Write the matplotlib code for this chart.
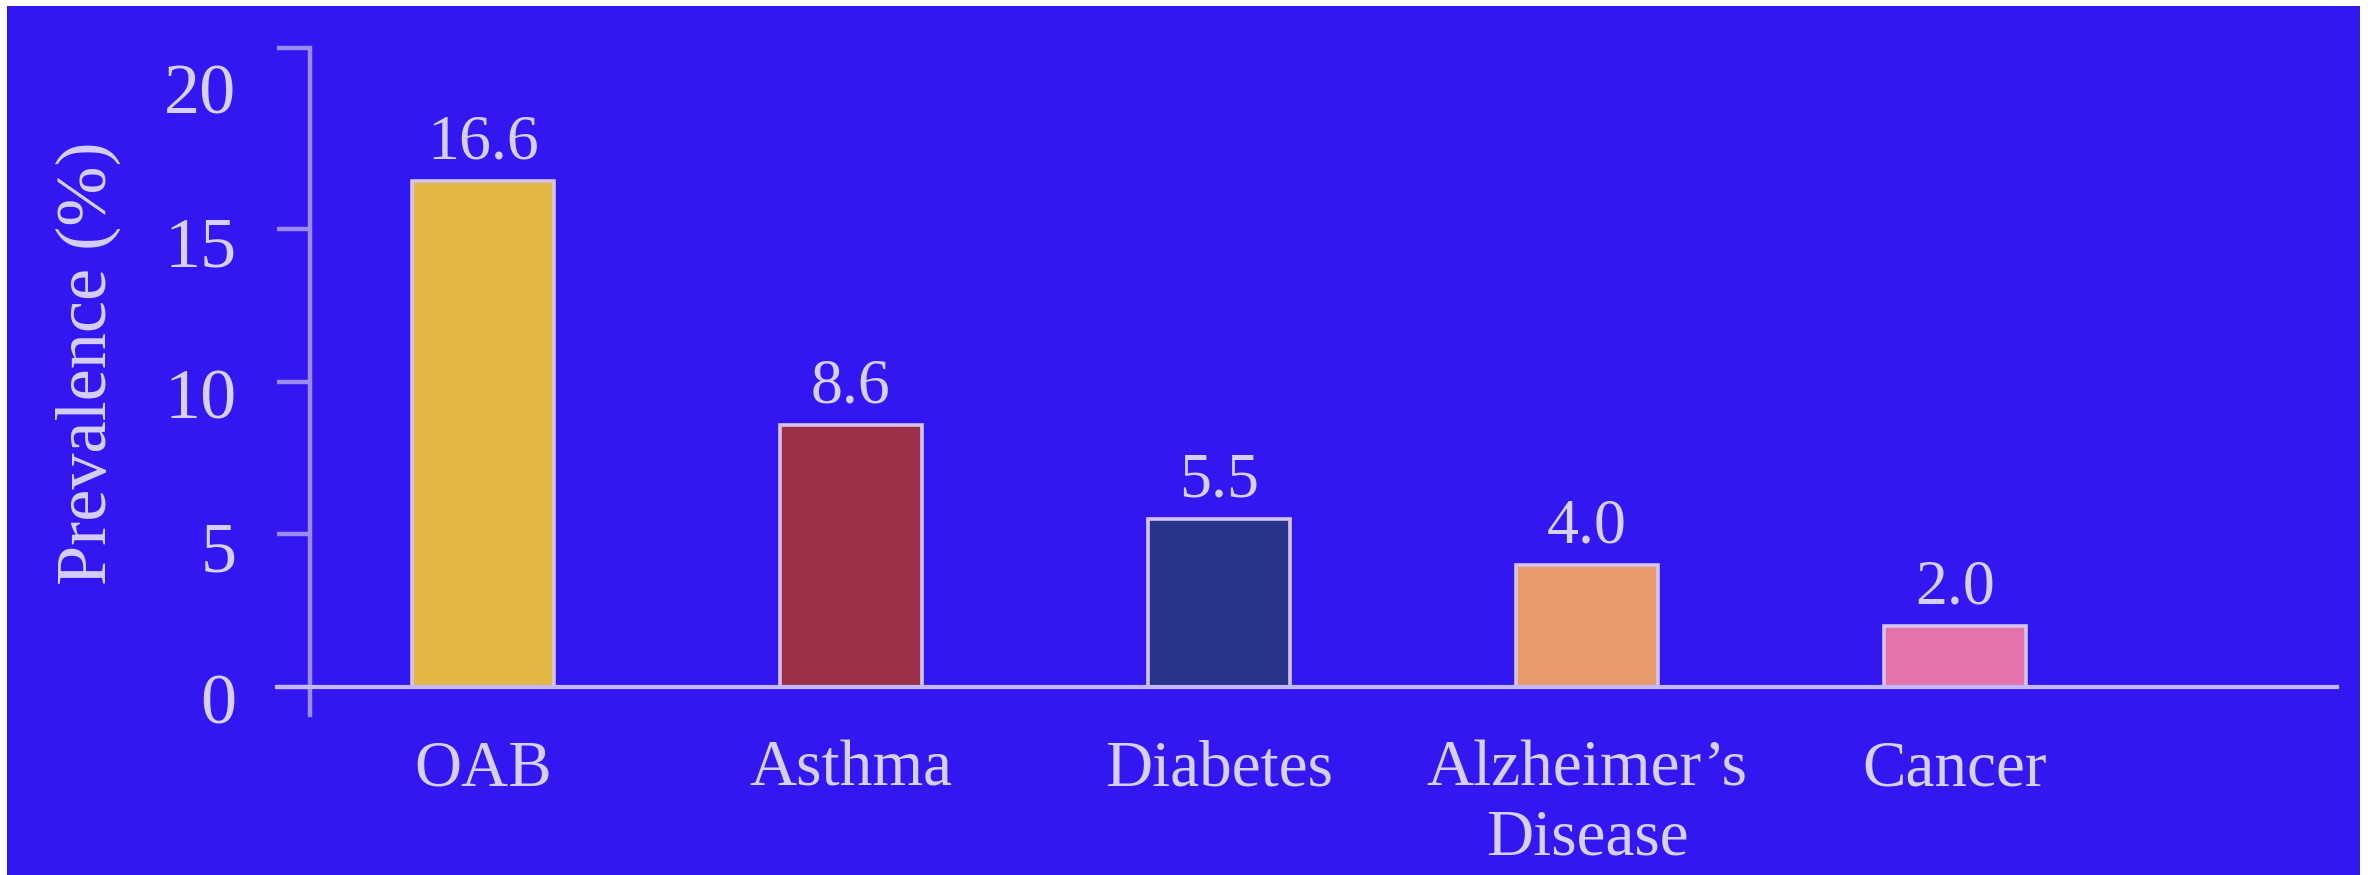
import matplotlib
matplotlib.use("Agg")
import matplotlib.pyplot as plt
import matplotlib.transforms as mtransforms
from matplotlib.patches import Rectangle

plt.rcParams['font.family'] = ['Liberation Serif', 'DejaVu Serif']

# data
conditions = ["OAB", "Asthma", "Diabetes", "Alzheimer\u2019s\nDisease", "Cancer"]
prevalence = [16.6, 8.6, 5.5, 4.0, 2.0]
value_labels = ["16.6", "8.6", "5.5", "4.0", "2.0"]
y_ticks = [0, 5, 10, 15, 20]
bar_colors = ["#e5b744", "#9a3149", "#283489", "#e79b6b", "#e472ac"]

bg = "#3217f0"
text_col = "#d6cfff"
axis_col = "#9a8cff"

fig = plt.figure(figsize=(23.72, 8.75), dpi=100, facecolor="white")
# blue panel with the thin white frame of the original slide
fig.patches.append(Rectangle((7 / 2372, 0), (2360 - 7) / 2372, (875 - 6) / 875,
                             transform=fig.transFigure, facecolor=bg,
                             edgecolor="none", zorder=-10))

ax = fig.add_axes([310 / 2372, 1 - 715 / 875, (2337 - 310) / 2372, (715 - 48) / 875])
ax.set_facecolor("none")

x = list(range(len(conditions)))
bars = ax.bar(x, prevalence, width=0.386, color=bar_colors,
              edgecolor="#d6c4f0", linewidth=2.6, zorder=3)
ax.bar_label(bars, labels=value_labels, padding=6, fontsize=46, color=text_col)

ax.set_xlim(-0.47, 5.038)
ax.set_ylim(-0.918, 20.95)

# spines
for s in ["top", "right", "bottom"]:
    ax.spines[s].set_visible(False)
ax.spines["left"].set_color(axis_col)
ax.spines["left"].set_linewidth(3.2)
ax.axhline(0, xmin=-0.0163, xmax=1, color="#c4b6ff", linewidth=3.0,
           clip_on=False, zorder=4)

# y ticks
ax.set_yticks(y_ticks)
ax.set_yticklabels([str(t) for t in y_ticks])
ax.set_yticks([20.95], minor=True)
ax.tick_params(axis="y", which="both", direction="out", length=24, width=3.2,
               color=axis_col, labelsize=52, labelcolor=text_col, pad=29)
ax.yaxis.get_major_ticks()[-1].tick1line.set_visible(False)
shift = mtransforms.ScaledTranslation(0, -12 / 100, fig.dpi_scale_trans)
for lab in ax.get_yticklabels():
    lab.set_transform(lab.get_transform() + shift)

# x ticks
ax.set_xticks(x)
ax.set_xticklabels(conditions)
ax.tick_params(axis="x", length=0, labelsize=47, labelcolor=text_col, pad=18)

ax.set_ylabel("Prevalence (%)", fontsize=52, color=text_col)
ax.yaxis.set_label_coords(-0.093, 0.528)

fig.savefig("out.png", dpi=100, facecolor="white")
